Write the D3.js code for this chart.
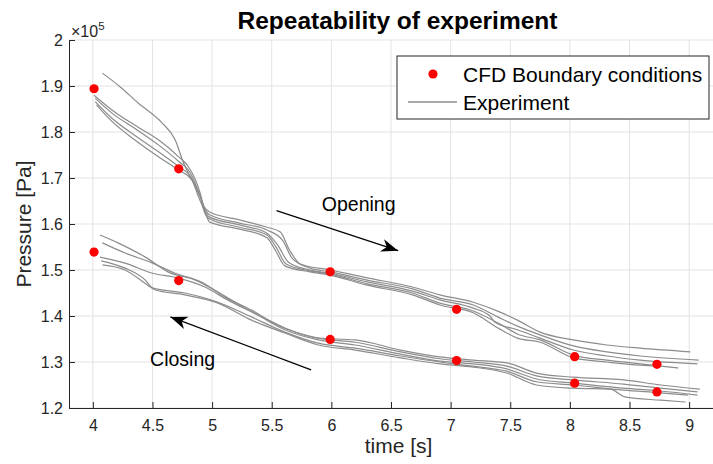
<!DOCTYPE html>
<html>
<head>
<meta charset="utf-8">
<script src="https://cdn.jsdelivr.net/npm/d3@7/dist/d3.min.js"></script>
<style>
  body { margin: 0; background: #fff; }
  svg { display: block; font-family: "Liberation Sans", Arial, sans-serif; }
</style>
</head>
<body>
<script>
// Axis ticks
const xTicks = [4, 4.5, 5, 5.5, 6, 6.5, 7, 7.5, 8, 8.5, 9];
const yTicks = [1.2, 1.3, 1.4, 1.5, 1.6, 1.7, 1.8, 1.9, 2.0];

// CFD boundary conditions (time [s], pressure [x1e5 Pa])
const cfdTime = [4.01, 4.72, 4.01, 4.72, 5.99, 5.99, 7.05, 7.05, 8.04, 8.04, 8.73, 8.73];
const cfdPressure = [1.894, 1.720, 1.539, 1.477, 1.496, 1.349, 1.4145, 1.303, 1.3115, 1.254, 1.295, 1.235];

// Experiment runs - opening
const opening1 = [[4.08,1.928],[4.23,1.898],[4.38,1.863],[4.58,1.820],[4.69,1.783],[4.76,1.733],[4.83,1.696],[4.90,1.661],[4.93,1.639],[4.98,1.626],[5.23,1.609],[5.46,1.593],[5.57,1.583],[5.65,1.543],[5.74,1.513],[5.99,1.500],[6.30,1.483],[6.68,1.463],[6.91,1.446],[7.19,1.430],[7.41,1.409],[7.56,1.391],[7.75,1.365],[8.03,1.348],[8.31,1.337],[8.59,1.330],[9.01,1.322]];
const opening2 = [[4.01,1.880],[4.16,1.848],[4.35,1.815],[4.55,1.783],[4.72,1.746],[4.80,1.725],[4.86,1.696],[4.90,1.667],[4.93,1.638],[4.98,1.620],[5.23,1.602],[5.46,1.587],[5.59,1.565],[5.67,1.526],[5.82,1.504],[5.99,1.496],[6.30,1.478],[6.68,1.459],[6.91,1.439],[7.19,1.424],[7.41,1.396],[7.56,1.378],[7.75,1.359],[8.03,1.335],[8.31,1.322],[8.59,1.313],[9.08,1.304]];
const opening3 = [[4.02,1.873],[4.16,1.841],[4.35,1.808],[4.55,1.772],[4.72,1.736],[4.81,1.714],[4.87,1.681],[4.91,1.652],[4.93,1.635],[4.98,1.615],[5.23,1.598],[5.46,1.580],[5.55,1.554],[5.64,1.517],[5.82,1.500],[5.99,1.493],[6.30,1.474],[6.68,1.454],[6.91,1.435],[7.19,1.417],[7.33,1.400],[7.37,1.387],[7.56,1.370],[7.75,1.352],[8.03,1.326],[8.31,1.313],[8.59,1.304],[9.07,1.296]];
const opening4 = [[4.02,1.866],[4.16,1.830],[4.35,1.793],[4.55,1.757],[4.72,1.725],[4.82,1.703],[4.88,1.670],[4.92,1.645],[4.93,1.630],[4.98,1.611],[5.23,1.593],[5.46,1.576],[5.54,1.548],[5.62,1.513],[5.82,1.498],[5.99,1.491],[6.30,1.470],[6.68,1.450],[6.91,1.428],[7.19,1.411],[7.41,1.383],[7.56,1.361],[7.75,1.348],[8.03,1.315],[8.31,1.304],[8.59,1.296],[8.91,1.287]];
const opening5 = [[4.03,1.859],[4.16,1.823],[4.35,1.783],[4.55,1.746],[4.72,1.717],[4.83,1.696],[4.88,1.663],[4.92,1.638],[4.94,1.626],[4.98,1.604],[5.23,1.589],[5.46,1.570],[5.53,1.543],[5.61,1.509],[5.82,1.496],[5.99,1.489],[6.30,1.467],[6.68,1.446],[6.91,1.424],[7.19,1.407],[7.41,1.372],[7.56,1.352],[7.75,1.343],[8.03,1.309],[8.31,1.300],[8.59,1.293],[8.76,1.291]];

// Experiment runs - closing
const closing1 = [[4.06,1.576],[4.21,1.559],[4.44,1.528],[4.63,1.496],[4.86,1.478],[5.05,1.452],[5.19,1.430],[5.42,1.398],[5.61,1.374],[5.89,1.352],[6.20,1.348],[6.58,1.326],[6.91,1.311],[7.19,1.304],[7.47,1.298],[7.72,1.276],[8.03,1.267],[8.45,1.261],[8.76,1.250],[9.09,1.241]];
const closing2 = [[4.08,1.559],[4.27,1.537],[4.50,1.515],[4.69,1.493],[4.91,1.474],[5.11,1.441],[5.33,1.413],[5.55,1.380],[5.89,1.352],[6.20,1.343],[6.58,1.322],[6.91,1.307],[7.19,1.300],[7.47,1.291],[7.72,1.270],[8.03,1.261],[8.45,1.252],[8.76,1.243],[9.07,1.235]];
const closing3 = [[4.06,1.528],[4.27,1.515],[4.50,1.493],[4.71,1.483],[4.94,1.463],[5.13,1.435],[5.38,1.402],[5.61,1.370],[5.89,1.348],[6.20,1.337],[6.58,1.317],[6.91,1.302],[7.19,1.296],[7.47,1.285],[7.72,1.263],[8.03,1.254],[8.45,1.243],[8.76,1.237],[9.07,1.228]];
const closing4 = [[4.07,1.520],[4.27,1.504],[4.44,1.478],[4.50,1.461],[4.77,1.450],[5.05,1.430],[5.33,1.398],[5.61,1.365],[5.89,1.341],[6.20,1.330],[6.58,1.313],[6.91,1.300],[7.19,1.291],[7.47,1.280],[7.72,1.257],[8.03,1.250],[8.45,1.239],[8.76,1.233],[8.99,1.228]];
const closing5 = [[4.08,1.511],[4.27,1.500],[4.46,1.467],[4.52,1.457],[4.77,1.446],[5.05,1.428],[5.33,1.391],[5.61,1.363],[5.89,1.337],[6.20,1.326],[6.58,1.309],[6.91,1.296],[7.19,1.289],[7.47,1.276],[7.72,1.250],[8.03,1.243],[8.34,1.241],[8.46,1.224],[8.76,1.217],[8.97,1.213]];

// Annotations: arrows [tailT, tailP, tipT, tipP] and labels
const arrowOpening = [5.54, 1.629, 6.56, 1.542];
const arrowClosing = [5.83, 1.283, 4.65, 1.398];
const labelNames = ["Opening", "Closing"];
const labelTime = [5.92, 4.48];
const labelPressure = [1.629, 1.291];

const runs = [opening1, opening2, opening3, opening4, opening5, closing1, closing2, closing3, closing4, closing5];

const W = 713, H = 464;
const svg = d3.select("body").append("svg").attr("width", W).attr("height", H);

//scales
const x = d3.scaleLinear().domain([3.8, 9.2]).range([69, 713]);
const y = d3.scaleLinear().domain([1.2, 2.0]).range([408, 40]);

//grid
const grid = svg.append("g").attr("stroke", "#e3e3e3").attr("stroke-width", 1);
grid.selectAll("line.vx").data(xTicks).enter().append("line")
  .attr("x1", d => x(d)).attr("x2", d => x(d)).attr("y1", y(1.2)).attr("y2", y(2.0));
grid.selectAll("line.hy").data(yTicks).enter().append("line")
  .attr("x1", x(3.8)).attr("x2", x(9.2)).attr("y1", d => y(d)).attr("y2", d => y(d));

//experiment lines
const line = d3.line().x(d => x(d[0])).y(d => y(d[1])).curve(d3.curveMonotoneX);
svg.append("g").selectAll("path").data(runs).enter().append("path")
  .attr("d", line).attr("fill", "none").attr("stroke", "#8c8c8c").attr("stroke-width", 1.2);

//cfd points
svg.append("g").selectAll("circle").data(cfdTime).enter().append("circle")
  .attr("cx", d => x(d)).attr("cy", (d, i) => y(cfdPressure[i])).attr("r", 4.6).attr("fill", "#ff0000");

//axes
const axisColor = "#262626";
const xAxis = d3.axisBottom(x).tickValues(xTicks).tickFormat(d3.format("~g")).tickSizeInner(-6).tickSizeOuter(0).tickPadding(11.5);
const yAxis = d3.axisLeft(y).tickValues(yTicks).tickFormat(d => d3.format(".1f")(d).replace("2.0", "2")).tickSizeInner(-6).tickSizeOuter(0).tickPadding(6);
const gx = svg.append("g").attr("transform", `translate(0, ${y(1.2)})`).call(xAxis);
const gy = svg.append("g").attr("transform", `translate(${x(3.8)}, 0)`).call(yAxis);
[gx, gy].forEach(g => {
  g.select(".domain").attr("stroke", axisColor);
  g.selectAll(".tick line").attr("stroke", axisColor);
  g.selectAll(".tick text").attr("fill", axisColor).style("font-size", "16px").style("font-family", "Liberation Sans, Arial, sans-serif");
});

//exponent label
const expo = svg.append("text").attr("x", 71).attr("y", 37).attr("fill", axisColor).style("font-size", "16px");
expo.append("tspan").text("\u00d710");
expo.append("tspan").attr("dy", -7).style("font-size", "11.5px").text("5");

//titles
svg.append("text").attr("x", 397.5).attr("y", 29).attr("text-anchor", "middle")
  .style("font-size", "24.5px").style("font-weight", "bold").attr("fill", "#000").text("Repeatability of experiment");
svg.append("text").attr("x", 398.5).attr("y", 453).attr("text-anchor", "middle")
  .style("font-size", "21px").attr("fill", axisColor).text("time [s]");
svg.append("text").attr("transform", "translate(31, 224) rotate(-90)").attr("text-anchor", "middle")
  .style("font-size", "21px").attr("fill", axisColor).text("Pressure [Pa]");

//arrow annotations
svg.append("defs").append("marker").attr("id", "head").attr("viewBox", "-18 -7 20 14")
  .attr("refX", 0).attr("refY", 0).attr("markerWidth", 20).attr("markerHeight", 14)
  .attr("markerUnits", "userSpaceOnUse").attr("orient", "auto")
  .append("path").attr("d", "M0,0 L-17,-6.5 L-12,0 L-17,6.5 Z").attr("fill", "#000");
svg.append("g").selectAll("line").data([arrowOpening, arrowClosing]).enter().append("line")
  .attr("x1", d => x(d[0])).attr("y1", d => y(d[1])).attr("x2", d => x(d[2])).attr("y2", d => y(d[3]))
  .attr("stroke", "#000").attr("stroke-width", 1.2).attr("marker-end", "url(#head)");
svg.append("g").selectAll("text").data(labelNames).enter().append("text")
  .attr("x", (d, i) => x(labelTime[i])).attr("y", (d, i) => y(labelPressure[i]))
  .style("font-size", "19.5px").attr("fill", "#000").text(d => d);

//legend
const lg = svg.append("g");
lg.append("rect").attr("x", 397).attr("y", 56).attr("width", 312).attr("height", 63)
  .attr("fill", "#fff").attr("stroke", axisColor).attr("stroke-width", 1);
lg.append("circle").attr("cx", 433).attr("cy", 74).attr("r", 4.6).attr("fill", "#ff0000");
lg.append("line").attr("x1", 408).attr("x2", 457).attr("y1", 102).attr("y2", 102).attr("stroke", "#555").attr("stroke-width", 1);
lg.append("text").attr("x", 463).attr("y", 82).style("font-size", "21px").attr("fill", "#000").text("CFD Boundary conditions");
lg.append("text").attr("x", 463).attr("y", 110).style("font-size", "21px").attr("fill", "#000").text("Experiment");
</script>
</body>
</html>
